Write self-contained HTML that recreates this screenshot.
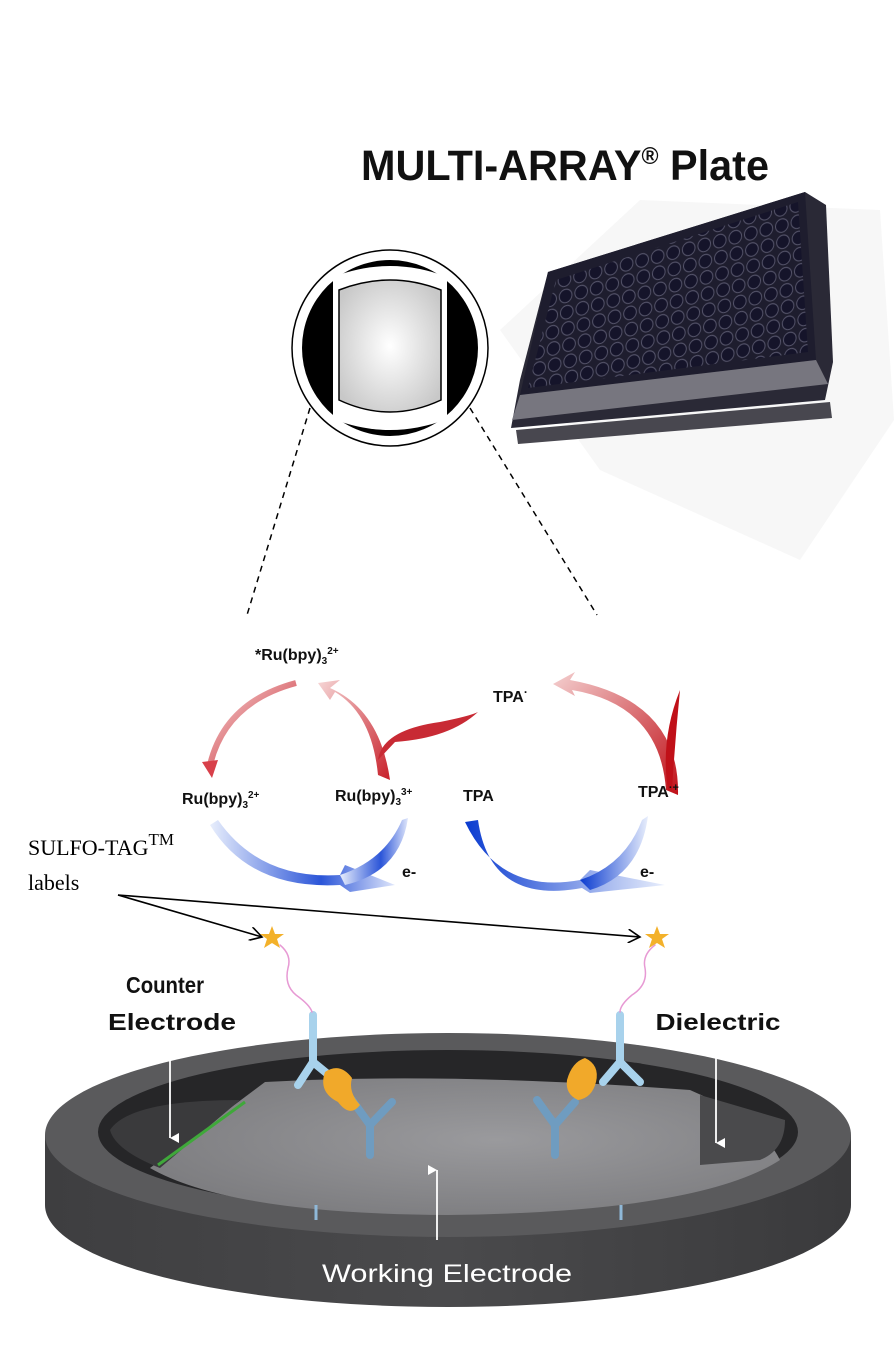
<!DOCTYPE html>
<html><head><meta charset="utf-8"><style>
html,body{margin:0;padding:0;background:#fff;}
svg{display:block;}
.b{font-family:"Liberation Sans",sans-serif;font-weight:bold;fill:#111;}
</style></head><body>
<svg width="894" height="1349" viewBox="0 0 894 1349" xmlns="http://www.w3.org/2000/svg">
<defs>
<radialGradient id="well" cx="50%" cy="50%" r="60%"><stop offset="0" stop-color="#fff"/><stop offset="1" stop-color="#c8c8c8"/></radialGradient>
<linearGradient id="redL" x1="0" y1="0" x2="1" y2="1"><stop offset="0" stop-color="#f6d6d6"/><stop offset="1" stop-color="#c8202a"/></linearGradient>
<linearGradient id="redR" x1="0" y1="0" x2="1" y2="1"><stop offset="0" stop-color="#f4d0d0"/><stop offset="1" stop-color="#c01018"/></linearGradient>
<linearGradient id="blueL" x1="0" y1="0" x2="1" y2="0"><stop offset="0" stop-color="#e8eefc"/><stop offset="0.6" stop-color="#2b55d8"/><stop offset="1" stop-color="#dfe6fb"/></linearGradient>
<linearGradient id="blueR" x1="0" y1="0" x2="1" y2="0"><stop offset="0" stop-color="#0a3bd0"/><stop offset="1" stop-color="#e8eefc"/></linearGradient>
<radialGradient id="floor" cx="55%" cy="45%" r="60%"><stop offset="0" stop-color="#9a9a9d"/><stop offset="1" stop-color="#7d7d80"/></radialGradient>
<linearGradient id="side" x1="0" y1="0" x2="1" y2="0"><stop offset="0" stop-color="#3e3e40"/><stop offset="0.5" stop-color="#4a4a4c"/><stop offset="1" stop-color="#3a3a3c"/></linearGradient>
<pattern id="wells" width="16" height="16" patternUnits="userSpaceOnUse" patternTransform="rotate(-14) skewX(-10)"><circle cx="8" cy="8" r="6.5" fill="#15142a" stroke="#55546a" stroke-width="1"/></pattern>
<clipPath id="topface"><polygon points="556,280 798,202 808,352 528,388"/></clipPath>
<marker id="ah" markerWidth="14" markerHeight="14" refX="12" refY="7" orient="auto" markerUnits="userSpaceOnUse"><path d="M0,0 L12,7 L0,14" fill="none" stroke="#000" stroke-width="1.6"/></marker>
<marker id="wh" markerWidth="10" markerHeight="10" refX="5" refY="9" orient="auto" markerUnits="userSpaceOnUse"><path d="M0,0 L5,9 L10,0 Z" fill="#fff"/></marker>
</defs>

<polygon points="640,200 880,210 894,420 800,560 600,470 500,330" fill="#f7f7f7"/>

<text x="565" y="180" class="b" font-size="43" text-anchor="middle" textLength="408" lengthAdjust="spacingAndGlyphs">MULTI-ARRAY<tspan font-size="24" dy="-16">®</tspan><tspan dy="16"> Plate</tspan></text>

<!-- plate -->
<polygon points="511,428 825,400 833,362 826,205 805,192 548,272 520,380" fill="#2a2936"/>
<polygon points="516,430 830,402 832,418 518,444" fill="#48474f"/>
<polygon points="548,272 805,192 816,360 520,395" fill="#1e1d2e"/>
<rect x="520" y="190" width="300" height="210" fill="url(#wells)" clip-path="url(#topface)"/>
<polygon points="520,395 816,360 828,384 512,420" fill="#77767f"/>

<!-- circle -->
<circle cx="390" cy="348" r="98" fill="#fff" stroke="#000" stroke-width="1.5"/>
<circle cx="390" cy="348" r="88" fill="#000"/>
<path d="M333,277 Q390,255 447,277 L447,419 Q390,441 333,419 Z" fill="#fff"/>
<path d="M339,290 Q390,270 441,290 L441,400 Q390,424 339,400 Z" fill="url(#well)" stroke="#000" stroke-width="1.5"/>
<line x1="310" y1="408" x2="247" y2="615" stroke="#000" stroke-width="1.5" stroke-dasharray="6,5"/>
<line x1="470" y1="408" x2="597" y2="615" stroke="#000" stroke-width="1.5" stroke-dasharray="6,5"/>

<!-- reaction cycles -->
<path d="M296,683 Q225,702 210,765" fill="none" stroke="url(#redL)" stroke-width="6"/>
<path d="M202,762 L212,778 L218,760 Z" fill="#d8404a"/>
<path d="M390,780 Q380,710 330,688 L340,680 L318,683 L330,700 L335,692 Q372,714 378,775 Z" fill="url(#redL)"/>
<path d="M378,760 Q382,730 440,722 Q470,716 478,712 Q450,738 395,742 Z" fill="#c82a34"/>
<path d="M678,795 Q680,700 570,680 L575,672 L553,684 L575,696 L572,690 Q660,705 666,790 Z" fill="url(#redR)"/>
<path d="M668,790 Q660,740 680,690 Q675,740 672,790 Z" fill="#c01018"/>
<path d="M218,820 Q260,880 340,875 L345,865 L395,885 L350,892 L340,885 Q250,890 210,825 Z" fill="url(#blueL)"/>
<path d="M340,875 Q385,860 402,820 L408,818 Q400,872 345,885 Z" fill="url(#blueL)"/>
<path d="M465,822 Q500,895 580,880 L590,870 L665,885 L590,893 L582,888 Q490,905 478,820 Z" fill="url(#blueR)"/>
<path d="M580,880 Q625,865 642,820 L648,816 Q640,875 590,890 Z" fill="url(#blueR)"/>

<g class="b" font-size="16">
<text x="255" y="660">*Ru(bpy)<tspan font-size="10" dy="4">3</tspan><tspan font-size="10" dy="-10">2+</tspan></text>
<text x="493" y="702">TPA<tspan font-size="12" dy="-6">·</tspan></text>
<text x="182" y="804">Ru(bpy)<tspan font-size="10" dy="4">3</tspan><tspan font-size="10" dy="-10">2+</tspan></text>
<text x="335" y="801">Ru(bpy)<tspan font-size="10" dy="4">3</tspan><tspan font-size="10" dy="-10">3+</tspan></text>
<text x="463" y="801">TPA</text>
<text x="638" y="797">TPA<tspan font-size="11" dy="-6">·+</tspan></text>
<text x="402" y="877">e-</text>
<text x="640" y="877">e-</text>
</g>

<text x="28" y="855" font-family="Liberation Serif,serif" font-size="22" fill="#000">SULFO-TAG<tspan font-size="17" dy="-10">TM</tspan></text>
<text x="28" y="890" font-family="Liberation Serif,serif" font-size="22" fill="#000">labels</text>
<line x1="118" y1="895" x2="262" y2="937" stroke="#000" stroke-width="1.6" marker-end="url(#ah)"/>
<line x1="118" y1="895" x2="640" y2="937" stroke="#000" stroke-width="1.6" marker-end="url(#ah)"/>

<!-- disk -->
<path d="M45,1135 L45,1205 A403,102 0 0 0 851,1205 L851,1135 Z" fill="url(#side)"/>
<ellipse cx="448" cy="1135" rx="403" ry="102" fill="#5a5a5c"/>
<ellipse cx="448" cy="1132" rx="350" ry="82" fill="#262628"/>
<path d="M265,1082 Q450,1072 690,1090 Q760,1120 780,1160 Q700,1212 448,1215 Q230,1214 150,1168 Z" fill="url(#floor)"/>
<path d="M110,1130 Q130,1100 240,1100 L160,1168 Q115,1150 110,1130Z" fill="#3a3a3c"/>
<line x1="158" y1="1165" x2="245" y2="1102" stroke="#3fa83a" stroke-width="3"/>
<path d="M700,1095 L785,1120 Q785,1150 760,1160 L700,1165 Z" fill="#4a4a4c"/>
<line x1="316" y1="1205" x2="316" y2="1220" stroke="#8fb8d8" stroke-width="3"/>
<line x1="621" y1="1205" x2="621" y2="1220" stroke="#8fb8d8" stroke-width="3"/>

<!-- antibodies -->
<g stroke-linecap="round" fill="none">
<path d="M370,1155 L370,1125 L352,1100 M370,1125 L392,1102" stroke="#6f9cc0" stroke-width="8"/>
<path d="M555,1155 L555,1125 L537,1100 M555,1125 L575,1102" stroke="#6f9cc0" stroke-width="8"/>
<path d="M313,1015 L313,1062 L298,1085 M313,1062 L335,1080" stroke="#a8d2ec" stroke-width="8"/>
<path d="M620,1015 L620,1062 L603,1082 M620,1062 L640,1082" stroke="#a8d2ec" stroke-width="8"/>
<path d="M280,945 Q292,955 288,968 Q284,985 296,995 Q310,1005 312,1012" stroke="#e79ad4" stroke-width="1.5"/>
<path d="M655,945 Q642,955 645,968 Q648,985 632,995 Q620,1005 620,1012" stroke="#e79ad4" stroke-width="1.5"/>
</g>
<path d="M325,1072 Q340,1062 352,1078 Q348,1092 360,1105 Q350,1118 338,1102 Q318,1092 325,1072Z" fill="#f1a92a"/>
<path d="M585,1058 Q600,1065 596,1082 Q592,1098 578,1100 Q565,1094 567,1080 Q572,1062 585,1058Z" fill="#f1a92a"/>
<polygon points="272,926 275,934 284,934 277,939 280,948 272,943 264,948 267,939 260,934 269,934" fill="#f3b12a"/>
<polygon points="657,926 660,934 669,934 662,939 665,948 657,943 649,948 652,939 645,934 654,934" fill="#f3b12a"/>

<g class="b" font-size="23" font-family="Liberation Sans,sans-serif">
<text x="165" y="993" text-anchor="middle" textLength="78" lengthAdjust="spacingAndGlyphs">Counter</text>
<text x="172" y="1030" text-anchor="middle" textLength="128" lengthAdjust="spacingAndGlyphs">Electrode</text>
<text x="718" y="1030" text-anchor="middle" textLength="125" lengthAdjust="spacingAndGlyphs">Dielectric</text>
</g>
<line x1="170" y1="1040" x2="170" y2="1138" stroke="#fff" stroke-width="1.8" marker-end="url(#wh)"/>
<line x1="716" y1="1048" x2="716" y2="1143" stroke="#fff" stroke-width="1.8" marker-end="url(#wh)"/>
<line x1="437" y1="1240" x2="437" y2="1170" stroke="#fff" stroke-width="1.8" marker-end="url(#wh)"/>
<text x="447" y="1282" text-anchor="middle" font-family="Liberation Sans,sans-serif" font-size="25" fill="#fff" textLength="250" lengthAdjust="spacingAndGlyphs">Working Electrode</text>
</svg>
</body></html>
